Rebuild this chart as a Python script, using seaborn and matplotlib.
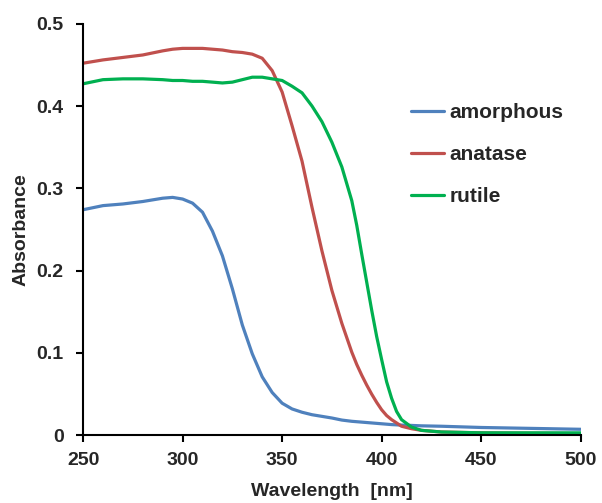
import pandas as pd
import seaborn as sns
import matplotlib
matplotlib.use("Agg")
import matplotlib.pyplot as plt

wavelength = [250, 260, 270, 280, 290, 295, 300, 305, 310, 315, 320, 325, 330, 335,
              340, 345, 350, 355, 360, 365, 370, 375, 380, 385, 387.5, 390, 392.5,
              395, 397.5, 400, 402.5, 405, 407.5, 410, 415, 420, 430, 450, 475, 500]
amorphous = [0.274, 0.279, 0.281, 0.284, 0.288, 0.289, 0.287, 0.282, 0.271, 0.248,
             0.218, 0.178, 0.134, 0.099, 0.071, 0.052, 0.039, 0.032, 0.028, 0.025,
             0.023, 0.021, 0.0185, 0.017, 0.0165, 0.016, 0.0155, 0.015, 0.0145, 0.014,
             0.0135, 0.013, 0.0127, 0.0124, 0.012, 0.0115, 0.011, 0.0095, 0.0084, 0.0073]
anatase = [0.452, 0.456, 0.459, 0.462, 0.467, 0.469, 0.470, 0.470, 0.470, 0.469,
           0.468, 0.466, 0.465, 0.463, 0.458, 0.443, 0.417, 0.376, 0.333, 0.277,
           0.224, 0.176, 0.136, 0.101, 0.086, 0.073, 0.061, 0.050, 0.040, 0.031,
           0.024, 0.019, 0.015, 0.011, 0.008, 0.006, 0.004, 0.003, 0.0025, 0.002]
rutile = [0.427, 0.432, 0.433, 0.433, 0.432, 0.431, 0.431, 0.430, 0.430, 0.429,
          0.428, 0.429, 0.432, 0.435, 0.435, 0.433, 0.431, 0.424, 0.416, 0.400,
          0.381, 0.356, 0.326, 0.285, 0.255, 0.220, 0.186, 0.152, 0.120, 0.092,
          0.065, 0.045, 0.029, 0.019, 0.010, 0.006, 0.004, 0.003, 0.003, 0.003]

x_ticks = [250, 300, 350, 400, 450, 500]
y_ticks = [0, 0.1, 0.2, 0.3, 0.4, 0.5]
y_tick_labels = ['0', '0.1', '0.2', '0.3', '0.4', '0.5']
colors = {'amorphous': '#4F81BD', 'anatase': '#C0504D', 'rutile': '#00B050'}

df = pd.DataFrame({'wavelength': wavelength, 'amorphous': amorphous,
                   'anatase': anatase, 'rutile': rutile})
long_df = df.melt(id_vars='wavelength', var_name='sample', value_name='absorbance')

sns.set_style("ticks")
plt.rcParams['font.family'] = ['Liberation Sans', 'DejaVu Sans']
plt.rcParams['font.weight'] = 'bold'

fig = plt.figure(figsize=(6.02, 5.03), dpi=100)
ax = fig.add_axes([0.138, 0.1346, 0.8266, 0.8183])

sns.lineplot(ax=ax, data=long_df, x='wavelength', y='absorbance', hue='sample',
             palette=colors, linewidth=2.3)

ax.set_xlim(250, 500)
ax.set_ylim(0, 0.5)
ax.set_xticks(x_ticks)
ax.set_yticks(y_ticks)
ax.set_yticklabels(y_tick_labels)
ax.tick_params(axis='both', labelsize=14, length=5, width=1.5, color='black', pad=7)
ax.tick_params(axis='y', pad=9)
for lab in ax.get_xticklabels() + ax.get_yticklabels():
    lab.set_fontweight('bold')
for side in ['left', 'bottom']:
    ax.spines[side].set_linewidth(1.5)
    ax.spines[side].set_color('black')
sns.despine(ax=ax)

ax.set_xlabel('Wavelength  [nm]', fontsize=14, fontweight='bold', labelpad=10)
ax.set_ylabel('Absorbance', fontsize=14, fontweight='bold', labelpad=5)

sns.move_legend(ax, loc='upper left', bbox_to_anchor=(0.683, 0.795),
                bbox_transform=fig.transFigure, title=None, frameon=False,
                fontsize=15, borderpad=0, borderaxespad=0, labelspacing=1.1,
                handlelength=1.6, handletextpad=0.25)

fig.savefig('out.png', dpi=100)
plt.close()
